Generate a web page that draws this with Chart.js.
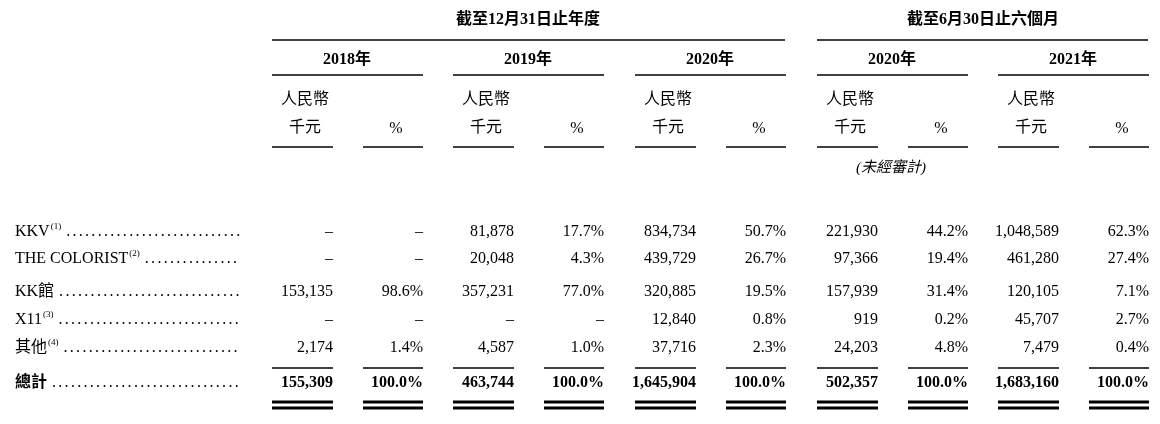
<!DOCTYPE html>
<html><head><meta charset="utf-8">
<script src="https://cdn.jsdelivr.net/npm/chart.js@4.4.0/dist/chart.umd.min.js"></script>
<style>html,body{margin:0;padding:0;background:#fff}canvas{display:block}</style>
</head><body>
<canvas id="c" width="1160" height="424"></canvas>
<script>
const groupTitles = ["截至12月31日止年度", "截至6月30日止六個月"];
const periods = ["2018年", "2019年", "2020年", "2020年", "2021年"];
const categories = ["KKV", "THE COLORIST", "KK館", "X11", "其他", "總計"];
const notes = ["(1)", "(2)", "", "(3)", "(4)", ""];
const amounts = [
  ["–", "–", "153,135", "–", "2,174", "155,309"],
  ["81,878", "20,048", "357,231", "–", "4,587", "463,744"],
  ["834,734", "439,729", "320,885", "12,840", "37,716", "1,645,904"],
  ["221,930", "97,366", "157,939", "919", "24,203", "502,357"],
  ["1,048,589", "461,280", "120,105", "45,707", "7,479", "1,683,160"]
];
const percents = [
  ["–", "–", "98.6%", "–", "1.4%", "100.0%"],
  ["17.7%", "4.3%", "77.0%", "–", "1.0%", "100.0%"],
  ["50.7%", "26.7%", "19.5%", "0.8%", "2.3%", "100.0%"],
  ["44.2%", "19.4%", "31.4%", "0.2%", "4.8%", "100.0%"],
  ["62.3%", "27.4%", "7.1%", "2.7%", "0.4%", "100.0%"]
];
const unitLabel = ["人民幣", "千元"];
const auditNote = "(未經審計)";

const F = '"Liberation Serif","Noto Sans CJK TC",serif';
const periodLeft = [272, 453, 635, 817, 998];
const rowY = [232, 259, 292, 320, 348, 383];

const tablePlugin = {
  id: 'table',
  afterDraw(chart) {
    const ctx = chart.ctx, xs = chart.scales.x, ys = chart.scales.y;
    const X = v => xs.getPixelForValue(v), Y = v => ys.getPixelForValue(v);
    ctx.save();
    ctx.fillStyle = '#000'; ctx.strokeStyle = '#000';
    ctx.textBaseline = 'middle';
    const line = (x1, x2, y, w) => { ctx.lineWidth = w; ctx.beginPath(); ctx.moveTo(X(x1), Y(y)); ctx.lineTo(X(x2), Y(y)); ctx.stroke(); };
    ctx.font = 'bold 16px ' + F; ctx.textAlign = 'center';
    ctx.fillText(groupTitles[0], X(528), Y(20));
    ctx.fillText(groupTitles[1], X(983), Y(20));
    line(272, 785, 40, 1.5); line(817, 1148, 40, 1.5);
    periods.forEach((p, i) => {
      const l = periodLeft[i];
      ctx.font = 'bold 16px ' + F; ctx.textAlign = 'center';
      ctx.fillText(p, X(l + 75), Y(60));
      line(l, l + 151, 75, 1.5);
      ctx.font = '16px ' + F; ctx.textAlign = 'left';
      ctx.fillText(unitLabel[0], X(l + 9), Y(100));
      ctx.fillText(unitLabel[1], X(l + 17), Y(128));
      ctx.textAlign = 'center';
      ctx.fillText('%', X(l + 124), Y(129));
      line(l, l + 61, 147, 1.5); line(l + 91, l + 151, 147, 1.5);
      categories.forEach((c, r) => {
        const bold = r === categories.length - 1;
        ctx.font = (bold ? 'bold ' : '') + '16px ' + F; ctx.textAlign = 'right';
        ctx.fillText(amounts[i][r], X(l + 61), Y(rowY[r]));
        ctx.fillText(percents[i][r], X(l + 151), Y(rowY[r]));
      });
      line(l, l + 61, 368, 1.5); line(l + 91, l + 151, 368, 1.5);
      [402, 408].forEach(y => { line(l, l + 61, y, 2.8); line(l + 91, l + 151, y, 2.8); });
    });
    ctx.font = 'italic 15px ' + F; ctx.textAlign = 'center';
    ctx.fillText(auditNote, X(891), Y(168));
    categories.forEach((c, r) => {
      const bold = r === categories.length - 1;
      ctx.textAlign = 'left';
      ctx.font = (bold ? 'bold ' : '') + '16px ' + F;
      let x = X(15);
      ctx.fillText(c, x, Y(rowY[r]));
      x += ctx.measureText(c).width;
      if (notes[r]) {
        ctx.font = '9px ' + F;
        ctx.fillText(notes[r], x + 1, Y(rowY[r] - 5));
        x += ctx.measureText(notes[r]).width + 1;
      }
      ctx.font = '16px ' + F;
      for (let d = x + 5; d < X(237); d += 6.3) ctx.fillText('.', d, Y(rowY[r]));
    });
    ctx.restore();
  }
};

new Chart(document.getElementById('c'), {
  type: 'scatter',
  data: { datasets: [{ data: [] }] },
  options: {
    responsive: false, animation: false, devicePixelRatio: 1,
    layout: { padding: 0 },
    plugins: { legend: { display: false }, tooltip: { enabled: false } },
    scales: {
      x: { type: 'linear', min: 0, max: 1160, display: false },
      y: { type: 'linear', min: 0, max: 424, reverse: true, display: false }
    }
  },
  plugins: [tablePlugin]
});
</script>
</body></html>
